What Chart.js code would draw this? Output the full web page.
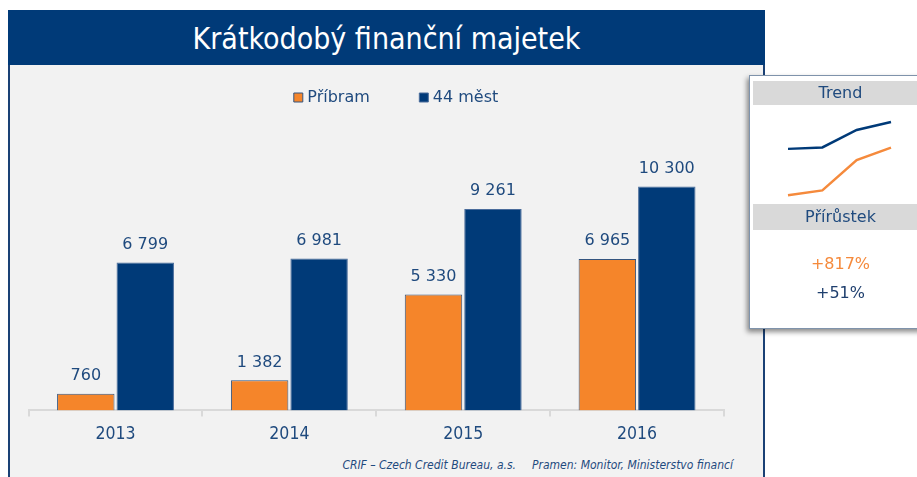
<!DOCTYPE html>
<html lang="cs">
<head>
<meta charset="utf-8">
<title>Krátkodobý finanční majetek</title>
<script src="https://cdn.jsdelivr.net/npm/chart.js@4/dist/chart.umd.min.js"></script>
<style>
  body {
    margin: 0;
    width: 917px;
    height: 477px;
    overflow: hidden;
    position: relative;
    background: #fff;
    font-family: 'DejaVu Sans', sans-serif;
  }
  #panel {
    position: absolute;
    left: 8px;
    top: 10px;
    width: 753px;
    height: 490px;
    background: #f2f2f2;
    border: 2px solid #1a4175;
  }
  #header {
    position: absolute;
    left: 8px;
    top: 10px;
    width: 757px;
    height: 55px;
    background: #003a78;
    color: #fff;
    text-align: center;
    line-height: 58px;
    font-family: 'DejaVu Sans Condensed', 'Liberation Sans Narrow', sans-serif;
    font-size: 30px;
  }
  #main {
    position: absolute;
    left: 0;
    top: 30px;
    z-index: 1;
  }
  #footer {
    position: absolute;
    right: 184px;
    top: 458px;
    font-family: 'DejaVu Sans Condensed', 'Liberation Sans Narrow', sans-serif;
    font-style: italic;
    font-size: 12px;
    color: #1f4a7e;
    white-space: nowrap;
  }
  #footer span + span { margin-left: 16px; }
  #card {
    position: absolute;
    left: 749px;
    top: 75px;
    width: 178px;
    height: 252px;
    background: #fff;
    border: 1px solid #7f93ab;
    box-shadow: -2px 3px 5px rgba(0, 0, 0, 0.45);
    z-index: 2;
  }
  .band {
    position: absolute;
    left: 3px;
    right: 0;
    background: #d9d9d9;
    color: #1f4a7e;
    font-size: 16px;
    text-align: center;
  }
  .growth {
    position: absolute;
    left: 3px;
    right: 0;
    text-align: center;
    font-size: 16px;
  }
  #trend {
    position: absolute;
    left: 778px;
    top: 105px;
    z-index: 3;
  }
</style>
</head>
<body>
<div id="panel"></div>
<div id="header">Krátkodobý finanční majetek</div>
<canvas id="main" width="800" height="430"></canvas>
<div id="footer"><span>CRIF – Czech Credit Bureau, a.s.</span><span>Pramen: Monitor, Ministerstvo financí</span></div>
<div id="card">
  <div class="band" style="top:5px;height:24px;line-height:24px;">Trend</div>
  <div class="band" style="top:128px;height:26px;line-height:26px;">Přírůstek</div>
  <div class="growth" id="growth0" style="top:178px;color:#f58a3c;"></div>
  <div class="growth" id="growth1" style="top:207px;color:#1f3f6e;"></div>
</div>
<canvas id="trend" width="123" height="98"></canvas>

<script>
'use strict';

//#region Data

const years = ['2013', '2014', '2015', '2016'];
const seriesNames = ['Příbram', '44 měst'];
const pribramValues = [760, 1382, 5330, 6965];
const mestValues = [6799, 6981, 9261, 10300];
const growthLabels = ['+817%', '+51%'];

//#endregion

const orange = '#f5852a';
const navy = '#003a78';
const textBlue = '#1f4a7e';

Chart.defaults.font.family = "'DejaVu Sans', sans-serif";

document.getElementById('growth0').textContent = growthLabels[0];
document.getElementById('growth1').textContent = growthLabels[1];

function formatNumber(value) {
  return String(value).replace(/\B(?=(\d{3})+(?!\d))/g, ' ');
}

// numbers above each bar
const valueLabels = {
  id: 'valueLabels',
  afterDatasetsDraw(chart) {
    const ctx = chart.ctx;
    ctx.save();
    ctx.font = "16px 'DejaVu Sans'";
    ctx.fillStyle = textBlue;
    ctx.textAlign = 'center';
    ctx.textBaseline = 'alphabetic';
    chart.data.datasets.forEach((dataset, i) => {
      chart.getDatasetMeta(i).data.forEach((bar, j) => {
        ctx.fillText(formatNumber(dataset.data[j]), bar.x, bar.y - 13.5);
      });
    });
    ctx.restore();
  }
};

//#region Main chart

const mainChart = new Chart(document.getElementById('main'), { //eslint-disable-line
  type: 'bar',
  data: {
    labels: years,
    datasets: [{
      label: seriesNames[0],
      data: pribramValues,
      backgroundColor: orange,
      borderColor: '#34557f',
      borderWidth: 1,
      categoryPercentage: 0.684,
      barPercentage: 0.966
    },
    {
      label: seriesNames[1],
      data: mestValues,
      backgroundColor: navy,
      borderColor: '#4a6c9b',
      borderWidth: 1,
      categoryPercentage: 0.684,
      barPercentage: 0.966
    }]
  },
  options: {
    responsive: false,
    animation: false,
    layout: {
      padding: { left: 28.6, right: 33, top: 6.5, bottom: 6.6 }
    },
    plugins: {
      legend: {
        labels: {
          usePointStyle: true,
          pointStyle: 'rect',
          boxHeight: 9,
          boxWidth: 2,
          padding: 53,
          color: textBlue,
          font: { size: 16 }
        }
      },
      tooltip: { enabled: false }
    },
    scales: {
      x: {
        grid: {
          offset: true,
          drawOnChartArea: false,
          color: '#d9d9d9',
          lineWidth: 2,
          tickLength: 6
        },
        border: { color: '#d9d9d9', width: 2 },
        ticks: {
          color: textBlue,
          padding: 8,
          font: { family: "'DejaVu Sans Condensed', 'Liberation Sans Narrow', sans-serif", size: 17.5 }
        }
      },
      y: {
        position: 'right',
        min: 0,
        max: 13560,
        grid: { display: false },
        border: { display: false },
        ticks: { display: false },
        afterFit(scale) {
          scale.width = 43;
        }
      }
    }
  },
  plugins: [valueLabels]
});

//#endregion

//#region Trend chart

const trendChart = new Chart(document.getElementById('trend'), { //eslint-disable-line
  type: 'line',
  data: {
    labels: years,
    datasets: [{
      data: mestValues,
      borderColor: navy,
      borderWidth: 2.5,
      pointRadius: 0,
      tension: 0
    },
    {
      data: pribramValues,
      borderColor: '#f58a3c',
      borderWidth: 2.5,
      pointRadius: 0,
      tension: 0
    }]
  },
  options: {
    responsive: false,
    animation: false,
    layout: {
      padding: { left: 10, right: 10, top: 4, bottom: 2 }
    },
    plugins: {
      legend: { display: false },
      tooltip: { enabled: false }
    },
    scales: {
      x: { display: false },
      y: { display: false, min: 0, max: 12000 }
    }
  }
});

//#endregion
</script>
</body>
</html>
